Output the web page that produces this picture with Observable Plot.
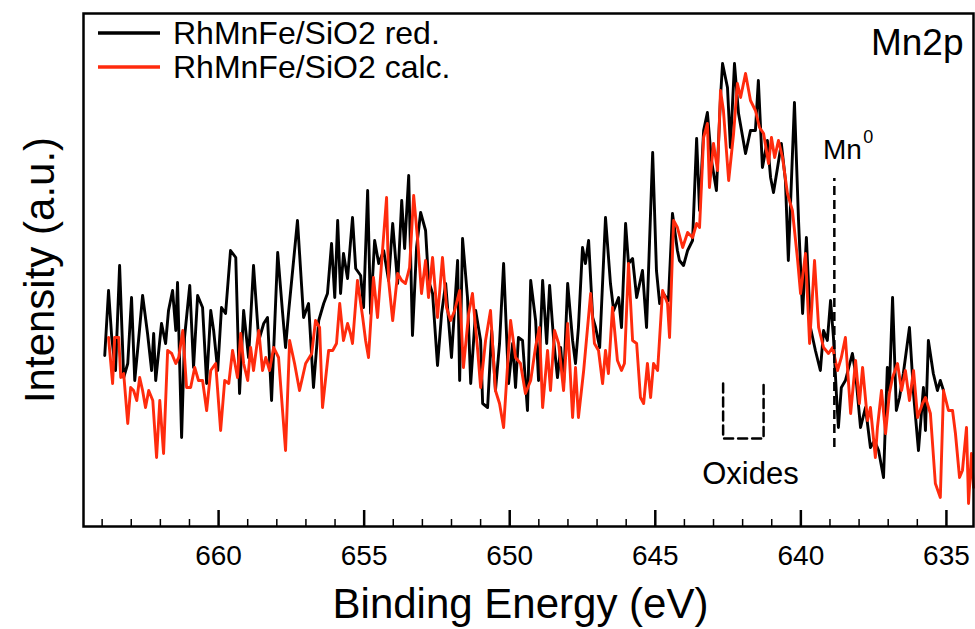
<!DOCTYPE html>
<html><head><meta charset="utf-8">
<script src="https://cdn.jsdelivr.net/npm/d3@7"></script>
<script src="https://cdn.jsdelivr.net/npm/@observablehq/plot@0.6"></script>
<style>html,body{margin:0;padding:0;background:#fff;} #chart{width:975px;height:629px;}</style>
</head><body><div id="chart"></div>
<script>
// [binding energy (eV), intensity (a.u.)]
const reducedSpectrum = [[663.91,171],[663.78,236],[663.67,189],[663.54,156],[663.40,261],[663.26,149],[663.12,163],[662.99,229],[662.88,146],[662.75,186],[662.61,231],[662.44,193],[662.30,156],[662.23,193],[662.16,146],[661.96,203],[661.82,183],[661.72,216],[661.58,236],[661.47,196],[661.41,244],[661.27,89],[661.17,189],[660.99,241],[660.86,159],[660.72,231],[660.55,219],[660.41,143],[660.27,216],[660.17,196],[660.03,156],[659.90,219],[659.76,213],[659.59,276],[659.41,269],[659.28,133],[659.14,216],[658.97,169],[658.80,261],[658.62,186],[658.45,203],[658.32,209],[658.18,126],[657.97,274],[657.80,213],[657.70,179],[657.59,216],[657.29,306],[657.08,209],[656.91,223],[656.74,139],[656.56,206],[656.39,223],[656.26,233],[656.12,283],[656.01,229],[655.91,306],[655.81,233],[655.71,273],[655.57,248],[655.40,309],[655.29,258],[655.12,251],[655.02,219],[654.88,336],[654.78,213],[654.64,286],[654.50,263],[654.33,276],[654.16,246],[654.02,303],[653.85,243],[653.71,326],[653.61,278],[653.47,351],[653.34,191],[653.20,279],[653.06,314],[652.89,296],[652.79,246],[652.65,233],[652.48,161],[652.34,213],[652.20,243],[652.00,169],[651.79,266],[651.72,146],[651.62,288],[651.45,229],[651.34,143],[651.17,216],[651.00,186],[650.93,123],[650.76,119],[650.62,196],[650.49,136],[650.35,183],[650.21,263],[650.04,143],[649.90,183],[649.80,139],[649.70,189],[649.56,186],[649.39,116],[649.28,246],[649.11,206],[649.01,146],[648.87,246],[648.73,183],[648.63,241],[648.49,186],[648.36,149],[648.25,179],[648.15,143],[648.01,243],[647.84,186],[647.74,163],[647.64,199],[647.50,279],[647.40,263],[647.29,286],[647.15,209],[647.05,199],[646.91,179],[646.71,309],[646.54,243],[646.43,216],[646.26,229],[646.16,199],[646.02,303],[645.92,263],[645.78,268],[645.64,229],[645.44,256],[645.30,199],[645.09,374],[644.96,256],[644.85,223],[644.72,233],[644.55,226],[644.41,313],[644.24,276],[644.17,266],[644.03,261],[643.89,276],[643.72,286],[643.58,388],[643.48,316],[643.34,396],[643.21,414],[643.07,366],[642.90,336],[642.76,429],[642.69,463],[642.52,439],[642.42,379],[642.28,463],[642.14,413],[641.90,373],[641.73,396],[641.56,396],[641.46,446],[641.32,359],[641.15,386],[641.04,349],[640.94,334],[640.80,359],[640.67,383],[640.53,346],[640.43,266],[640.22,424],[640.08,306],[639.94,213],[639.81,289],[639.67,199],[639.50,176],[639.33,156],[639.22,196],[639.09,186],[638.98,226],[638.88,189],[638.78,133],[638.71,99],[638.61,139],[638.47,146],[638.23,173],[638.12,153],[637.95,99],[637.78,119],[637.61,79],[637.47,86],[637.33,76],[637.16,49],[637.03,159],[636.96,136],[636.85,229],[636.72,116],[636.61,129],[636.48,153],[636.27,199],[636.13,133],[635.96,76],[635.79,139],[635.72,96],[635.62,186],[635.45,153],[635.31,136],[635.21,146],[635.10,136]];

const calcSpectrum = [[663.78,189],[663.64,143],[663.57,189],[663.43,189],[663.36,149],[663.26,153],[663.12,103],[663.02,139],[662.92,136],[662.81,126],[662.71,149],[662.61,136],[662.51,119],[662.40,136],[662.26,126],[662.13,69],[662.02,126],[661.89,73],[661.75,176],[661.61,173],[661.47,163],[661.37,169],[661.23,196],[661.10,139],[660.96,139],[660.82,159],[660.69,146],[660.55,146],[660.41,116],[660.27,156],[660.10,163],[659.93,96],[659.79,146],[659.65,143],[659.52,176],[659.35,149],[659.24,193],[659.14,163],[659.00,146],[658.90,179],[658.80,156],[658.62,196],[658.49,156],[658.38,169],[658.25,156],[658.11,179],[657.94,169],[657.70,76],[657.56,186],[657.39,163],[657.22,136],[657.01,163],[656.80,173],[656.67,206],[656.53,199],[656.43,119],[656.22,176],[656.08,176],[655.95,183],[655.84,223],[655.71,186],[655.57,203],[655.47,193],[655.40,183],[655.23,246],[655.05,209],[654.95,186],[654.85,169],[654.68,249],[654.54,209],[654.37,276],[654.23,329],[654.16,246],[654.02,206],[653.85,253],[653.71,246],[653.58,243],[653.44,259],[653.30,331],[653.16,286],[653.03,233],[652.89,266],[652.79,229],[652.65,269],[652.48,209],[652.31,269],[652.17,219],[652.03,206],[651.89,216],[651.72,236],[651.59,159],[651.41,213],[651.28,233],[651.10,176],[651.00,139],[650.83,186],[650.66,216],[650.49,136],[650.35,123],[650.21,99],[650.07,163],[649.97,206],[649.80,169],[649.63,163],[649.46,133],[649.28,146],[649.11,180],[648.98,199],[648.87,119],[648.70,176],[648.60,136],[648.46,196],[648.32,183],[648.15,136],[648.01,203],[647.84,109],[647.74,159],[647.64,109],[647.46,156],[647.22,233],[647.09,183],[646.95,176],[646.81,143],[646.71,176],[646.61,153],[646.47,219],[646.30,166],[646.16,156],[646.06,163],[645.92,263],[645.78,186],[645.64,183],[645.51,129],[645.40,123],[645.27,163],[645.16,129],[645.06,163],[644.92,156],[644.75,236],[644.58,223],[644.51,189],[644.37,306],[644.24,299],[644.06,279],[643.89,294],[643.72,289],[643.58,303],[643.48,299],[643.34,389],[643.21,403],[643.14,339],[643.00,383],[642.86,356],[642.76,436],[642.66,416],[642.48,346],[642.31,393],[642.18,443],[642.07,429],[641.90,453],[641.73,426],[641.56,416],[641.42,399],[641.28,393],[641.11,363],[641.01,389],[640.90,369],[640.77,386],[640.63,369],[640.46,333],[640.29,316],[640.11,266],[640.01,233],[639.84,273],[639.70,183],[639.53,266],[639.39,199],[639.22,179],[639.05,173],[638.91,179],[638.74,156],[638.61,169],[638.47,189],[638.29,113],[638.12,166],[637.99,123],[637.88,159],[637.71,106],[637.61,119],[637.44,69],[637.37,99],[637.23,136],[637.09,93],[636.96,133],[636.85,149],[636.68,163],[636.54,136],[636.41,156],[636.27,126],[636.13,156],[635.99,109],[635.82,123],[635.72,129],[635.55,113],[635.38,43],[635.21,29],[635.10,136],[634.93,116],[634.79,116],[634.69,93],[634.55,49],[634.45,56],[634.31,99],[634.24,23],[634.14,73],[634.07,39]];

const seriesNames = ["RhMnFe/SiO2 red.", "RhMnFe/SiO2 calc."];
const seriesColors = ["#000000", "#ff2b0d"];
const majorTicks = [660, 655, 650, 645, 640, 635];
const minorTicks = [664, 663, 662, 661, 659, 658, 657, 656, 654, 653, 652, 651, 649, 648, 647, 646, 644, 643, 642, 641, 639, 638, 637, 636];
const energyDomain = [664.64, 634.07];
const intensityDomain = [0, 513];
const mn0Marker = [{energy: 638.85, top: 348, bottom: 79, label: "Mn", sup: "0"}];
const oxidesBracket = [[642.67, 143], [642.67, 88], [641.28, 88], [641.28, 143]];
const oxidesLabel = [{energy: 641.73, intensity: 52, text: "Oxides"}];
const panelLabel = ["Mn2p"];
const xTitle = ["Binding Energy (eV)"];
const yTitle = ["Intensity (a.u.)"];

const font = "Liberation Sans, Arial, Helvetica, sans-serif";

const chart = Plot.plot({
  width: 975, height: 629,
  marginLeft: 83, marginRight: 2, marginTop: 13, marginBottom: 103,
  style: {fontFamily: font, background: "white", color: "black"},
  x: {domain: energyDomain, axis: null},
  y: {domain: intensityDomain, axis: null},
  marks: [
    Plot.line(reducedSpectrum, {x: d => d[0], y: d => d[1], stroke: seriesColors[0], strokeWidth: 2.9, strokeLinejoin: "round"}),
    Plot.line(calcSpectrum, {x: d => d[0], y: d => d[1], stroke: seriesColors[1], strokeWidth: 2.9, strokeLinejoin: "round"}),
    Plot.ruleX(mn0Marker, {x: "energy", y1: "bottom", y2: "top", stroke: "black", strokeWidth: 2.5, strokeDasharray: "9,5"}),
    Plot.line(oxidesBracket, {x: d => d[0], y: d => d[1], stroke: "black", strokeWidth: 2.5, strokeDasharray: "9,5"}),
    Plot.text(oxidesLabel, {x: "energy", y: "intensity", text: "text", fontSize: 31, fill: "black", textAnchor: "middle", lineAnchor: "middle"}),
    Plot.text(mn0Marker, {x: "energy", y: "top", text: "label", dx: 8, dy: -28, fontSize: 28, fill: "black", textAnchor: "middle", lineAnchor: "middle"}),
    Plot.text(mn0Marker, {x: "energy", y: "top", text: "sup", dx: 34, dy: -41, fontSize: 18, fill: "black", textAnchor: "middle", lineAnchor: "middle"}),
    Plot.tickX(minorTicks, {x: d => d, insetTop: 513 - 7, stroke: "black", strokeWidth: 1.5}),
    Plot.tickX(majorTicks, {x: d => d, insetTop: 513 - 16, stroke: "black", strokeWidth: 2.5}),
    Plot.text(majorTicks, {x: d => d, frameAnchor: "bottom", text: d => String(d), dy: 30, fontSize: 28, fill: "black", textAnchor: "middle", lineAnchor: "middle"}),
    Plot.frame({stroke: "black", strokeWidth: 2.5}),
    Plot.text(panelLabel, {frameAnchor: "top-right", dx: -10, dy: 30, fontSize: 37, textAnchor: "end", lineAnchor: "middle", fill: "black"}),
    Plot.text(xTitle, {frameAnchor: "bottom", dx: -8, dy: 78, fontSize: 42, fill: "black", textAnchor: "middle", lineAnchor: "middle"}),
    Plot.text(yTitle, {frameAnchor: "left", dx: -43, rotate: -90, fontSize: 42, fill: "black", textAnchor: "middle", lineAnchor: "middle"})
  ]
});

// in-plot legend
const svg = d3.select(chart);
const leg = svg.append("g").attr("font-family", font).attr("font-size", 32).attr("text-anchor", "start");
seriesNames.forEach((name, i) => {
  const y = 33 + i * 34;
  leg.append("line").attr("x1", 98).attr("x2", 160).attr("y1", y).attr("y2", y)
    .attr("stroke", seriesColors[i]).attr("stroke-width", 3.5);
  leg.append("text").attr("x", 173).attr("y", y).attr("dy", "0.35em").attr("fill", "black").text(name);
});

document.getElementById("chart").appendChild(chart);
</script>
</body></html>
